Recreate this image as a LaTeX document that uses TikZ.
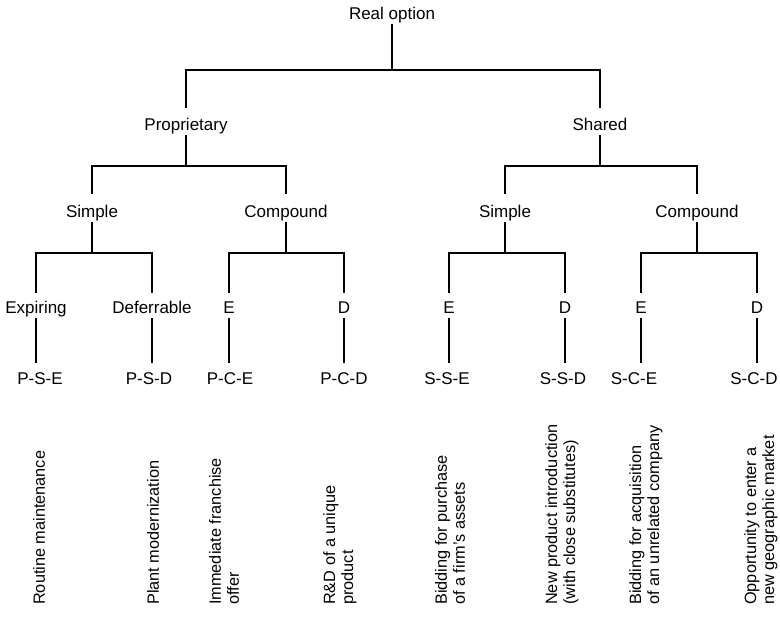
\documentclass[tikz,border=0pt]{standalone}
\usepackage{fontspec}
\setmainfont{Liberation Sans}
\begin{document}
\begin{tikzpicture}[x=1pt,y=-1pt,
  lbl/.style={inner sep=2pt,text height=12.5pt,text depth=3.5pt,font=\fontsize{17}{20}\selectfont},
  desc/.style={rotate=90,anchor=west,align=left,inner sep=0pt,font=\fontsize{16.3}{18}\selectfont},
  tl/.style={line width=1.8pt,line cap=rect}]
\useasboundingbox (0,0) rectangle (780,621);
% level 0
\node[lbl] (root) at (392,15) {Real option};
% level 1
\node[lbl] (prop) at (186,126) {Proprietary};
\node[lbl] (shared) at (600,126) {Shared};
% level 2
\node[lbl] (ps) at (92,213) {Simple};
\node[lbl] (pc) at (286,213) {Compound};
\node[lbl] (ss) at (505,213) {Simple};
\node[lbl] (sc) at (697,213) {Compound};
% level 3
\node[lbl] (pse) at (36,309) {Expiring};
\node[lbl] (psd) at (152,309) {Deferrable};
\node[lbl] (pce) at (229,309) {E};
\node[lbl] (pcd) at (344,309) {D};
\node[lbl] (sse) at (449,309) {E};
\node[lbl] (ssd) at (565,309) {D};
\node[lbl] (sce) at (641,309) {E};
\node[lbl] (scd) at (757,309) {D};
% codes
\node[lbl] (cpse) at (40,380) {P-S-E};
\node[lbl] (cpsd) at (149,380) {P-S-D};
\node[lbl] (cpce) at (230,380) {P-C-E};
\node[lbl] (cpcd) at (344,380) {P-C-D};
\node[lbl] (csse) at (447,380) {S-S-E};
\node[lbl] (cssd) at (563,380) {S-S-D};
\node[lbl] (csce) at (634,380) {S-C-E};
\node[lbl,inner sep=0pt] (cscd) at (754,380) {S-C-D};
% examples
\node[desc] (e1) at (39,605) {Routine maintenance};
\node[desc] (e2) at (153,605) {Plant modernization};
\node[desc] (e3) at (224,605) {Immediate franchise\\offer};
\node[desc] (e4) at (340,605) {R\&D of a unique\\product};
\node[desc] (e5) at (450,605) {Bidding for purchase\\of a firm's assets};
\node[desc] (e6) at (562,605) {New product introduction\\(with close substitutes)};
\node[desc] (e7) at (646,605) {Bidding for acquisition\\of an unrelated company};
\node[desc] (e8) at (761,605) {Opportunity to enter a\\new geographic market};
% bar levels
\coordinate (b0) at (0,70);
\coordinate (b1) at (0,166);
\coordinate (b2) at (0,253);
% level 0 -> 1
\draw[tl] (root.south) -- (root.south |- b0);
\draw[tl,shorten <=9pt,shorten >=9pt] (prop.north) |- (root.south |- b0) -| (shared.north);
% level 1 -> 2
\draw[tl] (prop.south) -- (prop.south |- b1);
\draw[tl,shorten <=10pt,shorten >=10pt] (ps.north) |- (prop.south |- b1) -| (pc.north);
\draw[tl] (shared.south) -- (shared.south |- b1);
\draw[tl,shorten <=10pt,shorten >=10pt] (ss.north) |- (shared.south |- b1) -| (sc.north);
% level 2 -> 3
\foreach \p/\a/\b in {ps/pse/psd, pc/pce/pcd, ss/sse/ssd, sc/sce/scd}{
  \draw[tl] (\p.south) -- (\p.south |- b2);
  \draw[tl,shorten <=7pt,shorten >=7pt] (\a.north) |- (\p.south |- b2) -| (\b.north);
}
% level 3 -> codes
\foreach \a/\c in {pse/cpse, psd/cpsd, pce/cpce, pcd/cpcd, sse/csse, ssd/cssd, sce/csce}{
  \draw[tl,shorten >=8pt] (\a.south) -- (\a.south |- \c.north);
}
\draw[tl,shorten >=10pt] (scd.south) -- (scd.south |- cscd.north);
\end{tikzpicture}
\end{document}
